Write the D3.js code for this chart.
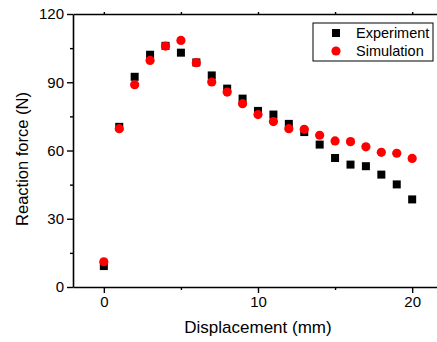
<!DOCTYPE html>
<html>
<head>
<meta charset="utf-8">
<script src="https://cdn.jsdelivr.net/npm/d3@7"></script>
<style>
  body { margin: 0; background: #fff; }
  svg { display: block; font-family: "Liberation Sans", Arial, sans-serif; }
</style>
</head>
<body>
<div id="chart"></div>
<script>
// data
var displacement = [0, 1, 2, 3, 4, 5, 6, 7, 8, 9, 10, 11, 12, 13, 14, 15, 16, 17, 18, 19, 20];
var experiment = [9.2, 70.4, 92.4, 102.1, 106, 103, 98.7, 93, 87.2, 82.8, 77.4, 75.8, 71.7, 68.1, 62.6, 56.7, 53.8, 53.1, 49.4, 45.1, 38.5];
var simulation = [11.1, 69.6, 88.9, 99.6, 105.9, 108.4, 98.6, 90.1, 85.7, 80.6, 75.8, 72.7, 69.6, 69.3, 66.7, 64.2, 63.9, 61.6, 59.2, 58.8, 56.5];
var xTicks = [0, 10, 20];
var xMinor = [5, 15];
var yTicks = [0, 30, 60, 90, 120];
var yMinor = [15, 45, 75, 105];

var svgWidth = 437, svgHeight = 342;
var margin = { top: 14, left: 73 };
var width = 370, height = 273;

var svg = d3.select('#chart').append('svg')
  .attr('width', svgWidth)
  .attr('height', svgHeight);

var g = svg.append('g')
  .attr('transform', `translate(${margin.left}, ${margin.top})`);

var x = d3.scaleLinear().domain([-2, 22]).range([0, width]);
var y = d3.scaleLinear().domain([0, 120]).range([height, 0]);

// axes
function styleAxis(sel) {
  sel.select('.domain').attr('stroke', '#000').attr('stroke-width', 1.6);
  sel.selectAll('.tick line').attr('stroke', '#000').attr('stroke-width', 1.4);
  sel.selectAll('.tick text').attr('fill', '#000').style('font-size', '15px');
}

var bottomAxis = g.append('g').attr('transform', `translate(0, ${height})`)
  .call(d3.axisBottom(x).tickValues(xTicks).tickFormat(d3.format('d')).tickSize(6).tickSizeOuter(0).tickPadding(3));
styleAxis(bottomAxis);
g.append('g').attr('transform', `translate(0, ${height})`)
  .call(d3.axisBottom(x).tickValues(xMinor).tickFormat('').tickSize(3).tickSizeOuter(0))
  .call(s => { s.select('.domain').remove(); s.selectAll('line').attr('stroke', '#000').attr('stroke-width', 1.4); });

var leftAxis = g.append('g')
  .call(d3.axisLeft(y).tickValues(yTicks).tickFormat(d3.format('d')).tickSize(6).tickSizeOuter(0).tickPadding(3));
styleAxis(leftAxis);
g.append('g')
  .call(d3.axisLeft(y).tickValues(yMinor).tickFormat('').tickSize(3).tickSizeOuter(0))
  .call(s => { s.select('.domain').remove(); s.selectAll('line').attr('stroke', '#000').attr('stroke-width', 1.4); });

// top frame line with small ticks
var topAxis = g.append('g')
  .call(d3.axisTop(x).tickValues(xTicks.concat(xMinor)).tickFormat('').tickSize(2).tickSizeOuter(0));
topAxis.select('.domain').attr('stroke', '#000').attr('stroke-width', 1.6);
topAxis.selectAll('line').attr('stroke', '#000').attr('stroke-width', 1.4);

// axis titles
svg.append('text')
  .attr('x', margin.left + x(10))
  .attr('y', 333)
  .attr('text-anchor', 'middle')
  .style('font-size', '17px')
  .text('Displacement (mm)');

svg.append('text')
  .attr('transform', 'translate(28, 159) rotate(-90)')
  .attr('text-anchor', 'middle')
  .style('font-size', '16.5px')
  .text('Reaction force (N)');

// points
var sq = 8;
g.selectAll('.exp').data(displacement).enter().append('rect')
  .attr('class', 'exp')
  .attr('x', d => x(d) - sq / 2)
  .attr('y', (d, i) => y(experiment[i]) - sq / 2)
  .attr('width', sq).attr('height', sq)
  .attr('fill', '#000');

g.selectAll('.sim').data(displacement).enter().append('circle')
  .attr('class', 'sim')
  .attr('cx', d => x(d))
  .attr('cy', (d, i) => y(simulation[i]))
  .attr('r', 4.6)
  .attr('fill', '#ff0000');

// legend
var legend = svg.append('g').attr('transform', 'translate(313, 23)');
legend.append('rect')
  .attr('width', 120).attr('height', 38)
  .attr('fill', '#fff').attr('stroke', '#000').attr('stroke-width', 1);
legend.append('rect')
  .attr('x', 23 - sq / 2).attr('y', 10 - sq / 2)
  .attr('width', sq).attr('height', sq).attr('fill', '#000');
legend.append('circle')
  .attr('cx', 23).attr('cy', 28).attr('r', 4.6).attr('fill', '#ff0000');
legend.append('text').attr('x', 43).attr('y', 15).style('font-size', '14.5px').text('Experiment');
legend.append('text').attr('x', 43).attr('y', 33).style('font-size', '14.5px').text('Simulation');
</script>
</body>
</html>
